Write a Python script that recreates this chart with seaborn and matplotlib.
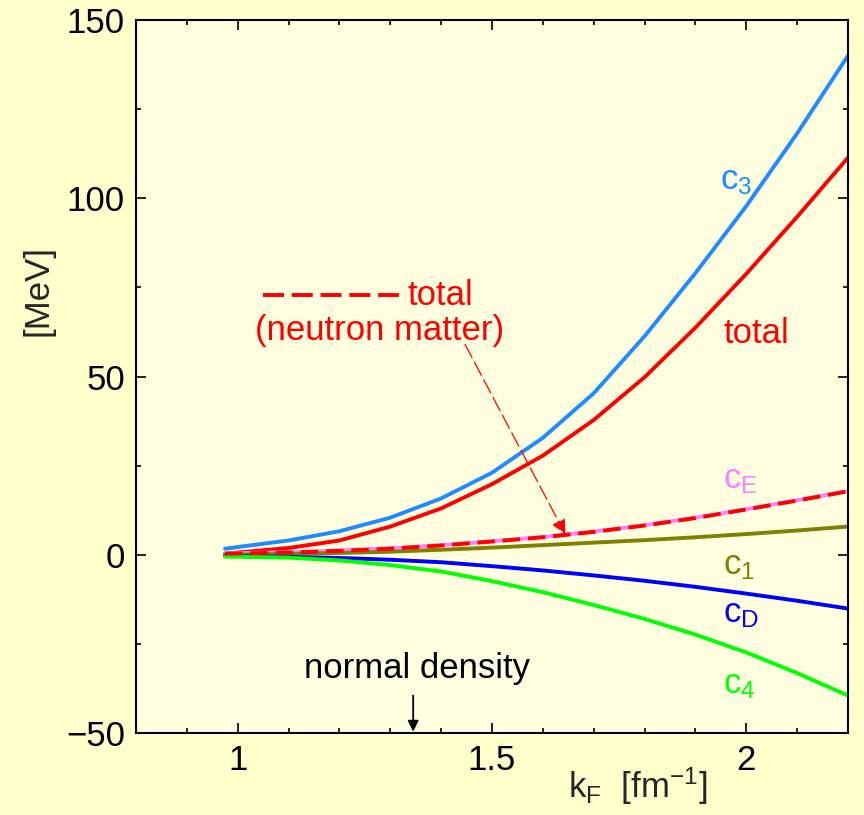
import matplotlib
matplotlib.use("Agg")
import matplotlib.pyplot as plt
import pandas as pd
import seaborn as sns
from matplotlib.ticker import MultipleLocator

# ---- data ----
kF = [0.975, 1.1, 1.2, 1.3, 1.4, 1.5, 1.6, 1.7, 1.8, 1.9, 2.0, 2.1, 2.2]
c3 = [1.7, 4.0, 6.6, 10.4, 15.8, 23.0, 32.8, 45.3, 61.3, 79.0, 97.8, 118.2, 140.0]
total = [0.3, 1.9, 4.0, 7.9, 13.0, 19.8, 27.8, 37.8, 49.8, 63.7, 78.8, 94.8, 111.4]
cE = [0.4, 0.7, 1.2, 1.8, 2.7, 3.8, 5.0, 6.5, 8.3, 10.4, 12.8, 15.3, 17.9]
total_nm = [0.3, 0.6, 1.1, 1.7, 2.6, 3.7, 4.9, 6.4, 8.2, 10.3, 12.7, 15.2, 17.8]
c1 = [0.0, 0.25, 0.5, 0.85, 1.4, 2.0, 2.7, 3.4, 4.1, 4.9, 5.8, 6.8, 7.9]
cD = [-0.3, -0.6, -0.9, -1.4, -2.1, -3.2, -4.4, -5.8, -7.3, -9.0, -10.9, -12.9, -15.1]
c4 = [-0.5, -0.8, -1.6, -2.9, -4.7, -7.4, -10.5, -14.1, -18.0, -22.4, -27.4, -33.2, -39.5]

series_names = ["c3", "total", "cE", "c1", "cD", "c4", "total_nm"]
series_values = [c3, total, cE, c1, cD, c4, total_nm]
series_colors = {"c3": "#1E8CFF", "total": "#FF0000", "cE": "#FF80FF", "c1": "#808000",
                 "cD": "#0000FF", "c4": "#00FF00", "total_nm": "#FF0000"}

rows = []
for name, vals in zip(series_names, series_values):
    for x, y in zip(kF, vals):
        rows.append({"kF": x, "E": y, "series": name})
df = pd.DataFrame(rows)

# ---- style ----
sns.set_style("ticks")
plt.rcParams["font.family"] = ["Liberation Sans", "DejaVu Sans"]
plt.rcParams["mathtext.fontset"] = "custom"
plt.rcParams["mathtext.rm"] = "Liberation Sans"
plt.rcParams["mathtext.it"] = "Liberation Sans"
plt.rcParams["axes.unicode_minus"] = True

fig_bg = "#FFFFCC"
ax_bg = "#FFFFE0"
fig = plt.figure(figsize=(8.64, 8.15), dpi=100, facecolor=fig_bg)
ax = fig.add_axes([136 / 864, 1 - 733 / 815, (848 - 136) / 864, (733 - 20) / 815])
ax.set_facecolor(ax_bg)

solid = ["c3", "total", "cE", "c1", "cD", "c4"]
sub = df[df["series"].isin(solid)]
sns.lineplot(data=sub, x="kF", y="E", hue="series", hue_order=solid,
             palette=series_colors, lw=2.8, ax=ax, legend=False, sort=False,
             estimator=None)
nm = df[df["series"] == "total_nm"]
sns.lineplot(data=nm, x="kF", y="E", color="#FF0000", lw=2.8, ax=ax,
             legend=False, sort=False, estimator=None,
             linestyle=(0, (4.5, 2.0)))
for ln in ax.get_lines():
    ln.set_solid_joinstyle("round")
    ln.set_dash_joinstyle("round")

ax.set_xlim(0.8, 2.2)
ax.set_ylim(-50, 150)
ax.xaxis.set_minor_locator(MultipleLocator(0.1))
ax.yaxis.set_minor_locator(MultipleLocator(25))
ax.set_xticks([1.0, 1.5, 2.0])
ax.set_xticklabels(["1", "1.5", "2"])
ax.set_yticks([-50, 0, 50, 100, 150])
ax.set_yticklabels(["\u221250", "0", "50", "100", "150"])
ax.tick_params(which="both", direction="in", top=True, right=True, width=1.2,
               colors="black", labelsize=25)
ax.tick_params(which="major", length=7.5, pad=8)
ax.tick_params(which="minor", length=3.8)
for s in ax.spines.values():
    s.set_linewidth(1.5)
    s.set_color("black")

ax.set_xlabel(r"k$_\mathrm{F}$  [fm$^{\mathrm{-1}}$]", fontsize=25)
ax.xaxis.set_label_coords(0.705, -0.046)
ax.set_ylabel("[MeV]", fontsize=25)
ax.yaxis.set_label_coords(-0.114, 0.621)

# ---- curve labels ----
fs = 25
ax.text(1.949, 105, r"c$_\mathrm{3}$", color=series_colors["c3"], fontsize=fs, ha="left", va="center")
ax.text(1.955, 62, "total", color="#FF0000", fontsize=fs, ha="left", va="center")
ax.text(1.955, 21, r"c$_\mathrm{E}$", color=series_colors["cE"], fontsize=fs, ha="left", va="center")
ax.text(1.955, -3, r"c$_\mathrm{1}$", color=series_colors["c1"], fontsize=fs, ha="left", va="center")
ax.text(1.955, -16.5, r"c$_\mathrm{D}$", color=series_colors["cD"], fontsize=fs, ha="left", va="center")
ax.text(1.955, -36.5, r"c$_\mathrm{4}$", color=series_colors["c4"], fontsize=fs, ha="left", va="center")

# neutron matter label with dashed sample
ax.plot([1.05, 1.33], [72.8, 72.8], color="#FF0000", lw=2.8, linestyle=(0, (5.4, 2.0)))
ax.text(1.333, 72.6, "total", color="#FF0000", fontsize=fs, ha="left", va="center")
ax.text(1.278, 63.0, "(neutron matter)", color="#FF0000", fontsize=fs, ha="center", va="center")
ax.annotate("", xy=(1.644, 5.8), xytext=(1.447, 59.0),
            arrowprops=dict(arrowstyle="-|>", color="#FF0000", lw=0.9,
                            linestyle=(0, (12, 4)), mutation_scale=22,
                            shrinkA=0, shrinkB=0))

# normal density marker
ax.text(1.353, -32, "normal density", color="black", fontsize=fs, ha="center", va="center")
ax.annotate("", xy=(1.345, -49.6), xytext=(1.345, -39.5),
            arrowprops=dict(arrowstyle="-|>", color="black", lw=1.3,
                            mutation_scale=16, shrinkA=0, shrinkB=0))

fig.savefig("out.png", dpi=100, facecolor=fig_bg)
